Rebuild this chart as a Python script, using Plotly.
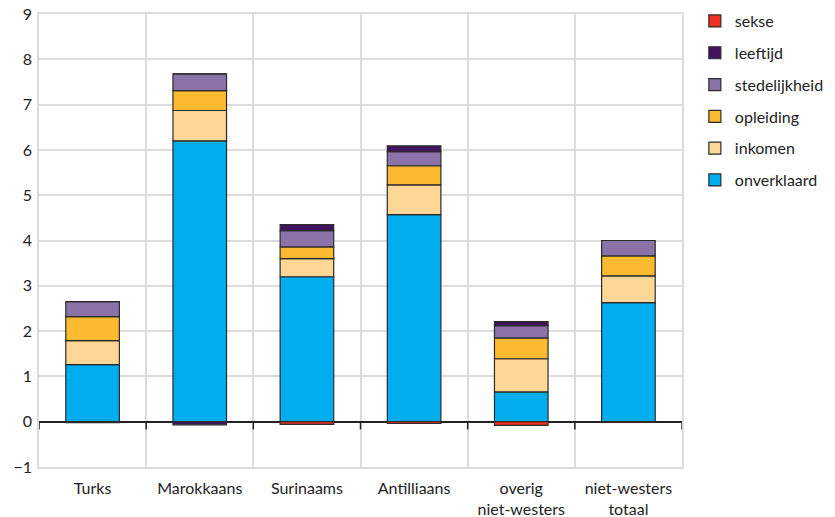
import plotly.graph_objects as go

categories = ["Turks", "Marokkaans", "Surinaams", "Antilliaans", "overig<br>niet-westers", "niet-westers<br>totaal"]
onverklaard = [1.26, 6.20, 3.20, 4.57, 0.66, 2.63]
inkomen = [0.53, 0.67, 0.40, 0.66, 0.73, 0.59]
opleiding = [0.53, 0.44, 0.26, 0.42, 0.46, 0.44]
stedelijkheid = [0.33, 0.37, 0.36, 0.31, 0.27, 0.34]
leeftijd = [-0.02, -0.07, 0.13, 0.13, 0.09, 0.0]
sekse = [0.0, 0.0, -0.06, -0.04, -0.08, -0.01]
y_ticks = [-1, 0, 1, 2, 3, 4, 5, 6, 7, 8, 9]
y_tick_labels = ["\u22121", "0", "1", "2", "3", "4", "5", "6", "7", "8", "9"]

series = [
    ("onverklaard", onverklaard, "#00AEEF"),
    ("inkomen", inkomen, "#FED796"),
    ("opleiding", opleiding, "#FBBA2F"),
    ("stedelijkheid", stedelijkheid, "#8A73A8"),
    ("leeftijd", leeftijd, "#42145F"),
    ("sekse", sekse, "#EE3124"),
]

xpos = list(range(len(categories)))
fig = go.Figure()
for k, (name, vals, col) in enumerate(series):
    fig.add_trace(go.Bar(
        x=xpos, y=vals, name=name, marker=dict(color=col, line=dict(color="#2b2b2b", width=1.2)),
        width=0.5, legendgroup=name, legendrank=1000 - k,
    ))

shapes = []
for i in range(len(categories) + 1):
    shapes.append(dict(type="line", xref="x", yref="y", x0=i - 0.5, x1=i - 0.5, y0=0, y1=-0.17,
                       line=dict(color="#222", width=1.5), layer="above"))

font = "Lato, 'Open Sans', sans-serif"
fig.update_layout(
    width=835, height=517,
    barmode="relative",
    plot_bgcolor="white", paper_bgcolor="white",
    margin=dict(l=39, r=153, t=14, b=50, autoexpand=False),
    font=dict(family=font, size=16, color="#222"),
    shapes=shapes,
    legend=dict(traceorder="grouped", x=1.02, y=1.022, xanchor="left", yanchor="top",
                font=dict(size=16), tracegroupgap=8, itemwidth=30),
    xaxis=dict(range=[-0.5, 5.5], tickvals=xpos, ticktext=categories, showgrid=False,
               showline=True, linecolor="#dcdcdc", linewidth=1.5, mirror=True,
               zeroline=False, ticks="", ticklabelstandoff=6,
               minor=dict(tick0=-0.5, dtick=1, showgrid=True, gridcolor="#dcdcdc", gridwidth=1.5, ticks="")),
    yaxis=dict(range=[-1, 9], tickvals=y_ticks, ticktext=y_tick_labels, showgrid=True,
               gridcolor="#dcdcdc", gridwidth=1.5, zeroline=True, zerolinecolor="#222",
               showline=True, linecolor="#dcdcdc", linewidth=1.5, mirror=True,
               zerolinewidth=1.5, ticks="", ticklabelstandoff=2),
)
fig.write_html("out.html", config={"displayModeBar": False},
               post_script="document.body.style.margin='0';")
